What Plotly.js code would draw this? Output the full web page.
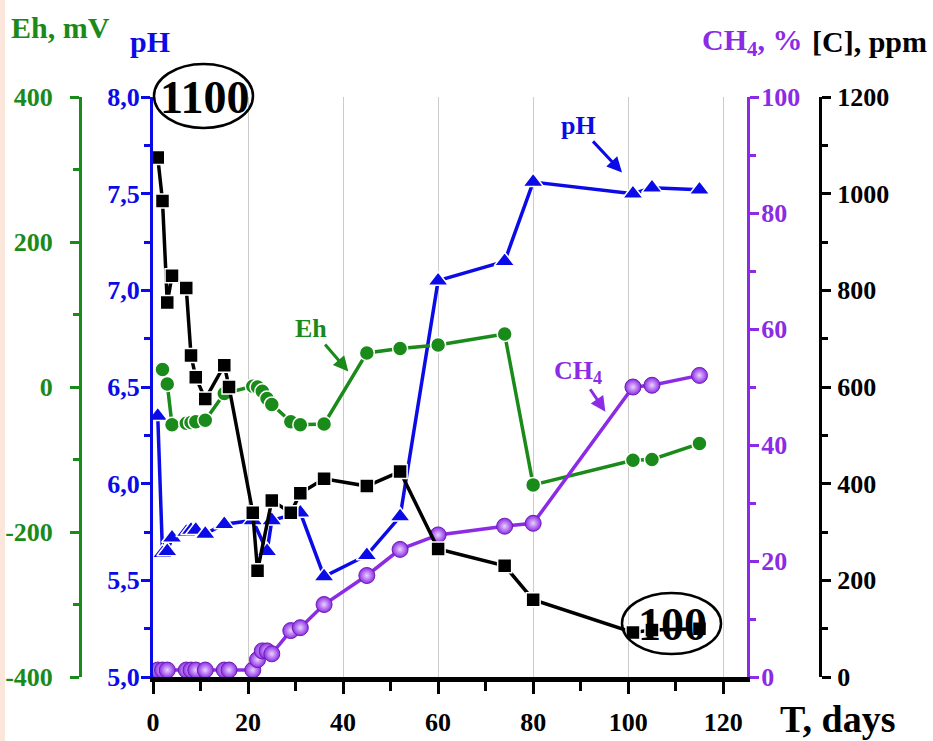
<!DOCTYPE html>
<html><head><meta charset="utf-8">
<script src="https://cdn.plot.ly/plotly-3.0.1.min.js"></script>
<style>
html,body{margin:0;padding:0;background:#fff;overflow:hidden;}
#strip{position:absolute;left:0;top:0;width:5px;height:741px;background:#fbe6db;z-index:5;}
#chart{width:933px;height:741px;}
</style>
</head><body><div id="strip"></div><div id="chart"></div>
<script>
// ---- data ----
const tC   = [1, 2, 3, 4, 7, 8, 9, 11, 15, 16, 21, 22, 25, 29, 31, 36, 45, 52, 60, 74, 80, 101, 105, 115];
const cPpm = [1075, 985, 775, 830, 805, 665, 620, 575, 645, 600, 340, 220, 365, 340, 380, 410, 395, 425, 265, 230, 160, 92, 97, 100];

const tPH  = [1, 2, 3, 4, 7, 8, 9, 11, 15, 21, 24, 25, 31, 36, 45, 52, 60, 74, 80, 101, 105, 115];
const pHv  = [6.35, 5.64, 5.65, 5.72, 5.75, 5.76, 5.76, 5.74, 5.79, 5.81, 5.65, 5.81, 5.85, 5.52, 5.63, 5.83, 7.05, 7.15, 7.56, 7.50, 7.53, 7.52];

const tEh  = [2, 3, 4, 7, 8, 9, 11, 15, 21, 22, 23, 24, 25, 29, 31, 36, 45, 52, 60, 74, 80, 101, 105, 115];
const ehMv = [24, 4, -52, -50, -49, -48, -46, -9, 1, 0, -6, -16, -24, -48, -52, -51, 47, 53, 58, 73, -135, -101, -100, -78];

const tCH4 = [1, 2, 3, 7, 8, 9, 11, 15, 16, 21, 22, 23, 24, 25, 29, 31, 36, 45, 52, 60, 74, 80, 101, 105, 115];
const ch4  = [1.2, 1.2, 1.2, 1.2, 1.2, 1.2, 1.2, 1.2, 1.2, 1.2, 3, 4.5, 4.5, 4, 8, 8.5, 12.5, 17.5, 22, 24.5, 26, 26.5, 50, 50.3, 52];

const pHTickVals = [5, 5.5, 6, 6.5, 7, 7.5, 8];
const pHTickText = ['5,0', '5,5', '6,0', '6,5', '7,0', '7,5', '8,0'];
const ehTickVals = [-400, -200, 0, 200, 400];
const ehTickText = ['-400', '-200', '0', '200', '400'];
const gridVals   = [-200, 0, 200];

// ---- styling ----
const GREEN = '#1a8a1a', BLUE = '#0b0be8', PURPLE = '#8c2be6', BLACK = '#000000';
const SERIF = 'Liberation Serif, Times New Roman, serif';
const W = 933, H = 741, L = 70, R = 100, T = 97, B = 64;
const PW = W - L - R, PHh = H - T - B;
const px = x => (x - L) / PW;
const py = y => (H - B - y) / PHh;
const f = (size, color) => ({family: SERIF, size: size, color: color, weight: 'bold'});
const label = (x, y, text, font) => ({xref: 'paper', yref: 'paper', x: px(x), y: py(y), text: text,
  showarrow: false, xanchor: 'center', yanchor: 'middle', font: font});

const traces = [
  {x: tEh, y: ehMv, yaxis: 'y2', mode: 'lines+markers', name: 'Eh',
   line: {color: GREEN, width: 3.5},
   marker: {symbol: 'circle', size: 15, color: GREEN, line: {color: '#ffffff', width: 1.5}}},
  {x: tCH4, y: ch4, yaxis: 'y3', mode: 'lines+markers', name: 'CH4',
   line: {color: PURPLE, width: 3.5},
   marker: {symbol: 'circle', size: 16, color: PURPLE, gradient: {type: 'radial', color: '#ead2ff'},
            line: {color: '#6a1cb0', width: 1}}},
  {x: tPH, y: pHv, yaxis: 'y', mode: 'lines+markers', name: 'pH',
   line: {color: BLUE, width: 3.5},
   marker: {symbol: 'triangle-up', size: 18, color: BLUE, line: {color: '#ffffff', width: 1.5}}},
  {x: tC, y: cPpm, yaxis: 'y4', mode: 'lines+markers', name: '[C]',
   line: {color: BLACK, width: 3.5},
   marker: {symbol: 'square', size: 14, color: BLACK, line: {color: '#ffffff', width: 1.5}}}
];

const layout = {
  width: W, height: H,
  margin: {l: L, r: R, t: T, b: B, pad: 0},
  paper_bgcolor: '#ffffff', plot_bgcolor: 'rgba(0,0,0,0)',
  showlegend: false,
  xaxis: {
    domain: [px(153), px(747)], range: [0, 125], tickmode: 'linear', tick0: 0, dtick: 20,
    ticks: 'outside', ticklen: 12, tickwidth: 3, tickcolor: BLACK, ticklabelstandoff: 6,
    showline: true, linewidth: 5, linecolor: BLACK, zeroline: false,
    showgrid: true, gridcolor: '#cccccc', gridwidth: 1,
    tickfont: f(26, BLACK), automargin: false,
    minor: {tickmode: 'linear', tick0: 0, dtick: 10, ticks: 'outside', ticklen: 9, tickwidth: 3, tickcolor: BLACK, showgrid: false}
  },
  yaxis: {
    anchor: 'x', side: 'left', range: [5, 8], tickmode: 'array', tickvals: pHTickVals, ticktext: pHTickText,
    ticks: 'outside', ticklen: 9, tickwidth: 3, tickcolor: BLUE, ticklabelstandoff: -4,
    showline: true, linewidth: 3, linecolor: BLUE, showgrid: false, zeroline: false,
    tickfont: f(26, BLUE), automargin: false,
    minor: {tickmode: 'linear', tick0: 5, dtick: 0.25, ticks: 'outside', ticklen: 6, tickwidth: 3, tickcolor: BLUE, showgrid: false}
  },
  yaxis2: {
    overlaying: 'y', anchor: 'free', position: px(80), side: 'left', range: [-400, 400],
    tickmode: 'array', tickvals: ehTickVals, ticktext: ehTickText,
    ticks: 'outside', ticklen: 9, tickwidth: 3, tickcolor: GREEN, ticklabelstandoff: 12,
    showline: true, linewidth: 3, linecolor: GREEN, showgrid: false, zeroline: false,
    tickfont: f(26, GREEN), automargin: false,
    minor: {tickmode: 'linear', tick0: -400, dtick: 100, ticks: 'outside', ticklen: 6, tickwidth: 3, tickcolor: GREEN, showgrid: false}
  },
  yaxis3: {
    overlaying: 'y', anchor: 'x', side: 'right', range: [0, 100], tickmode: 'linear', tick0: 0, dtick: 20,
    ticks: 'outside', ticklen: 9, tickwidth: 3, tickcolor: PURPLE, ticklabelstandoff: -3,
    showline: true, linewidth: 3, linecolor: PURPLE, showgrid: false, zeroline: false,
    tickfont: f(26, PURPLE), automargin: false,
    minor: {tickmode: 'linear', tick0: 0, dtick: 10, ticks: 'outside', ticklen: 6, tickwidth: 3, tickcolor: PURPLE, showgrid: false}
  },
  yaxis4: {
    overlaying: 'y', anchor: 'free', position: px(820), side: 'right', range: [0, 1200], tickmode: 'linear', tick0: 0, dtick: 200,
    ticks: 'outside', ticklen: 9, tickwidth: 3, tickcolor: BLACK, ticklabelstandoff: 1,
    showline: true, linewidth: 3, linecolor: BLACK, showgrid: false, zeroline: false,
    tickfont: f(26, BLACK), automargin: false,
    minor: {tickmode: 'linear', tick0: 0, dtick: 100, ticks: 'outside', ticklen: 6, tickwidth: 3, tickcolor: BLACK, showgrid: false}
  },
  yaxis5: {
    overlaying: 'y', anchor: 'x', side: 'left', range: [-400, 400], tickmode: 'array', tickvals: gridVals,
    showticklabels: false, ticks: '', showline: false, zeroline: false,
    showgrid: true, gridcolor: '#cccccc', gridwidth: 1, automargin: false
  },
  shapes: [
    {type: 'circle', xref: 'paper', yref: 'paper', x0: px(154), x1: px(253), y0: py(128), y1: py(64),
     line: {color: BLACK, width: 2.5}, fillcolor: 'rgba(0,0,0,0)'},
    {type: 'circle', xref: 'paper', yref: 'paper', x0: px(622), x1: px(721), y0: py(654), y1: py(593),
     line: {color: BLACK, width: 2.5}, fillcolor: 'rgba(0,0,0,0)'}
  ],
  annotations: [
    label(60, 27, 'Eh, mV', f(30, GREEN)),
    label(150, 42, 'pH', f(30, BLUE)),
    label(752, 42, 'CH<sub>4</sub>, %', f(30, PURPLE)),
    label(869, 42, '[C], ppm', f(30, BLACK)),
    label(838, 719, 'T, days', f(38, BLACK)),
    label(204, 97, '1100', f(46, BLACK)),
    label(672, 624, '100', f(46, BLACK)),
    {xref: 'x', yref: 'y', x: 98.7, y: 7.61, ax: -44, ay: -47, text: 'pH', showarrow: true,
     arrowhead: 2, arrowsize: 1, arrowwidth: 3, arrowcolor: BLUE, font: f(26, BLUE)},
    {xref: 'x', yref: 'y', x: 41.1, y: 6.58, ax: -37, ay: -43, text: 'Eh', showarrow: true,
     arrowhead: 2, arrowsize: 1, arrowwidth: 3, arrowcolor: GREEN, font: f(26, GREEN)},
    {xref: 'x', yref: 'y', x: 95.2, y: 6.372, ax: -27, ay: -40, text: 'CH<sub>4</sub>', showarrow: true,
     arrowhead: 2, arrowsize: 1, arrowwidth: 3, arrowcolor: PURPLE, font: f(26, PURPLE)}
  ]
};

Plotly.newPlot('chart', traces, layout, {staticPlot: true, displayModeBar: false});
</script>
</body></html>
